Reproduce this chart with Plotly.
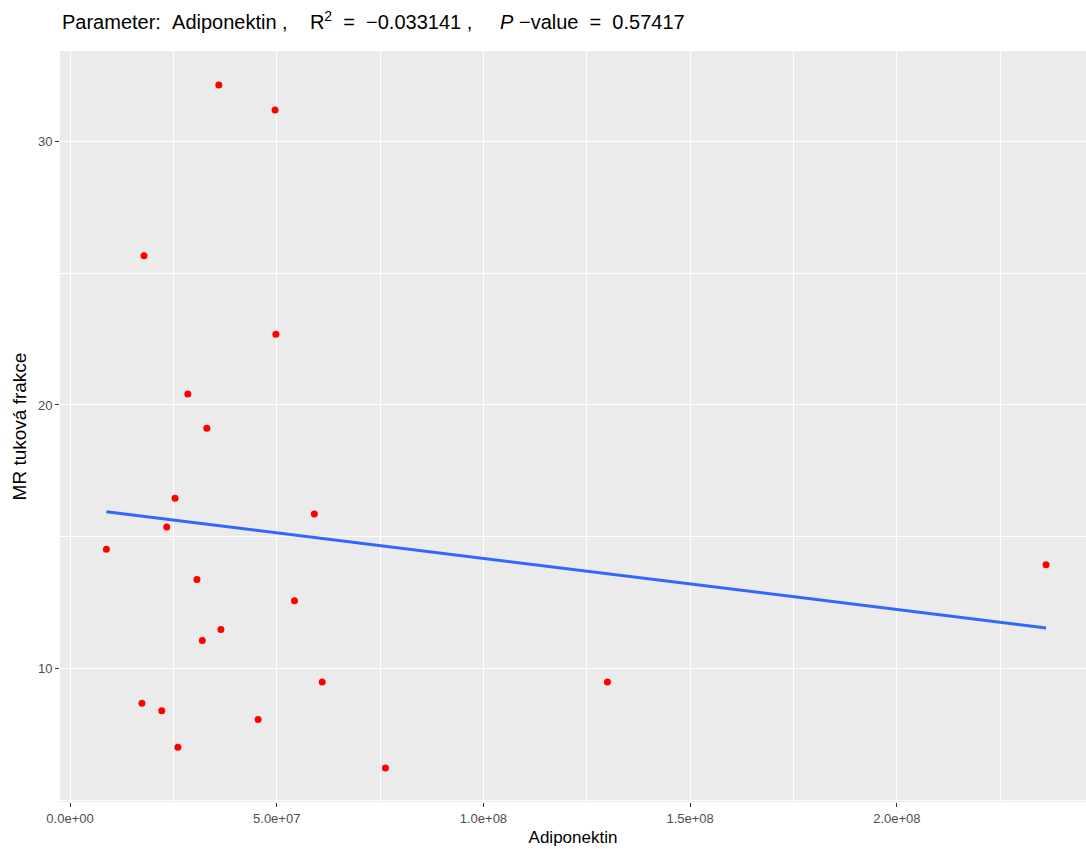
import numpy as np
import plotly.graph_objects as go

# Data
adiponektin = [3.60e7, 4.96e7, 1.79e7, 4.98e7, 2.85e7, 3.31e7, 2.54e7, 2.34e7, 8.8e6,
               5.91e7, 3.07e7, 5.43e7, 3.65e7, 3.20e7, 6.10e7, 1.3e8, 2.361e8, 1.74e7,
               2.22e7, 4.55e7, 2.61e7, 7.63e7]
mr_fat = [32.12, 31.18, 25.65, 22.68, 20.42, 19.12, 16.47, 15.38, 14.53,
          15.87, 13.39, 12.58, 11.49, 11.08, 9.50, 9.50, 13.95, 8.70,
          8.41, 8.08, 7.03, 6.24]

x_tickvals = [0, 5e7, 1e8, 1.5e8, 2e8]
x_ticktext = ["0.0e+00", "5.0e+07", "1.0e+08", "1.5e+08", "2.0e+08"]
y_tickvals = [10, 20, 30]
y_ticktext = ["10", "20", "30"]

sp = "\u00a0"
title_text = ("Parameter:" + sp * 2 + "Adiponektin" + sp + "," + sp * 4 +
              "R<sup>2</sup>" + sp * 2 + "=" + sp * 2 + "\u22120.033141" + sp + "," + sp * 5 +
              "<i>P</i>" + sp + "\u2212value" + sp * 2 + "=" + sp * 2 + "0.57417")

# Linear fit (as geom_smooth(method='lm'))
xa = np.array(adiponektin)
ya = np.array(mr_fat)
slope, intercept = np.polyfit(xa, ya, 1)
fit_x = np.linspace(xa.min(), xa.max(), 80)
fit_y = slope * fit_x + intercept

fig = go.Figure()
fig.add_trace(go.Scatter(x=fit_x, y=fit_y, mode="lines",
                         line=dict(color="#3366FF", width=3), hoverinfo="skip"))
fig.add_trace(go.Scatter(x=adiponektin, y=mr_fat, mode="markers",
                         marker=dict(color="#FF0000", size=7, line=dict(width=0))))

FONT = "Liberation Sans, Arial, sans-serif"
axis_common = dict(
    showline=False, zeroline=False,
    showgrid=True, gridcolor="white", gridwidth=1.4,
    ticks="outside", ticklen=4, tickwidth=1, tickcolor="#333333",
    tickfont=dict(family=FONT, size=13, color="#4D4D4D"),
)

fig.update_layout(
    width=1086, height=849,
    margin=dict(l=60, r=0, t=51, b=47),
    paper_bgcolor="white", plot_bgcolor="#EBEBEB",
    showlegend=False,
    font=dict(family=FONT),
    title=dict(text=title_text, xref="container", yref="container",
               x=62 / 1086, y=1 - 22 / 849, xanchor="left", yanchor="middle",
               font=dict(family=FONT, size=20, color="#000000")),
    xaxis=dict(axis_common, range=[-2.42e6, 2.4576e8],
               tickmode="array", tickvals=x_tickvals, ticktext=x_ticktext,
               title=dict(text="Adiponektin", standoff=6,
                          font=dict(family=FONT, size=17, color="#000000")),
               minor=dict(tickmode="array", tickvals=[2.5e7, 7.5e7, 1.25e8, 1.75e8, 2.25e8],
                          showgrid=True, gridcolor="white", gridwidth=0.7, ticks="")),
    yaxis=dict(axis_common, range=[4.956, 33.413],
               tickmode="array", tickvals=y_tickvals, ticktext=y_ticktext,
               title=dict(text="MR tuková frakce", standoff=6,
                          font=dict(family=FONT, size=19, color="#000000")),
               minor=dict(tickmode="array", tickvals=[5, 15, 25],
                          showgrid=True, gridcolor="white", gridwidth=0.7, ticks="")),
)

fig.write_html("out.html", config={"displayModeBar": False},
               post_script="document.body.style.margin='0';document.body.style.overflow='hidden';")
